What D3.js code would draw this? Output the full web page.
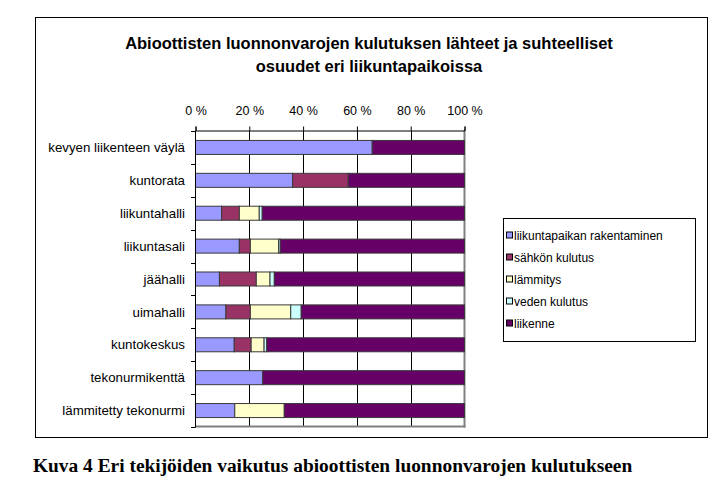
<!DOCTYPE html>
<html>
<head>
<meta charset="utf-8">
<script src="https://cdn.jsdelivr.net/npm/d3@7/dist/d3.min.js"></script>
<style>
  html, body { margin: 0; padding: 0; background: #fff; }
  svg { display: block; }
</style>
</head>
<body>
<svg id="chart" width="714" height="484"></svg>
<script>
const categories = ["kevyen liikenteen väylä", "kuntorata", "liikuntahalli", "liikuntasali",
  "jäähalli", "uimahalli", "kuntokeskus", "tekonurmikenttä", "lämmitetty tekonurmi"];
const seriesNames = ["liikuntapaikan rakentaminen", "sähkön kulutus", "lämmitys", "veden kulutus", "liikenne"];
const rakentaminen = [65.7, 36.1, 9.7, 16.3, 8.9, 11.3, 14.4, 25.0, 14.6];
const sahko        = [0, 20.7, 6.6, 4.1, 13.7, 9.1, 6.3, 0, 0];
const lammitys     = [0, 0, 7.4, 10.5, 5.1, 15.0, 4.8, 0, 18.4];
const vesi         = [0, 0, 1.1, 0.6, 1.6, 3.9, 1.0, 0, 0];
const liikenne     = [34.3, 43.2, 75.2, 68.5, 70.7, 60.7, 73.5, 75.0, 67.0];
const tickValues = [0, 20, 40, 60, 80, 100];
const tickLabels = ["0 %", "20 %", "40 %", "60 %", "80 %", "100 %"];
const colors = ["#9999FF", "#993366", "#FFFFCC", "#CCFFFF", "#660066"];
const titleLines = ["Abioottisten luonnonvarojen kulutuksen lähteet ja suhteelliset", "osuudet eri liikuntapaikoissa"];
const caption = "Kuva 4 Eri tekijöiden vaikutus abioottisten luonnonvarojen kulutukseen";

const SANS = "'Liberation Sans', Arial, sans-serif";
const SERIF = "'Liberation Serif', 'Times New Roman', serif";

const seriesArrays = [rakentaminen, sahko, lammitys, vesi, liikenne];
const table = categories.map((c, i) => {
  const row = { cat: c };
  seriesNames.forEach((s, j) => row[s] = seriesArrays[j][i]);
  return row;
});

const svg = d3.select("#chart");

// chart area border
svg.append("rect").attr("x", 35.5).attr("y", 17.5).attr("width", 672).attr("height", 420)
  .attr("fill", "#fff").attr("stroke", "#000").attr("stroke-width", 1);

// title
titleLines.forEach((t, i) => {
  svg.append("text").attr("x", 369).attr("y", 49 + i * 23).attr("text-anchor", "middle")
    .style("font-family", SANS).style("font-size", "16.5px").style("font-weight", "bold")
    .attr("fill", "#000").text(t);
});

const x = d3.scaleLinear().domain([0, 100]).range([195.5, 464.5]);
const y = d3.scaleBand().domain(categories).range([131, 427]).paddingInner(0.574).paddingOuter(0.287);
const plotTop = 130.5, plotBottom = 426.5;

// gridlines
svg.append("g").selectAll("line").data(tickValues.filter(v => v > 0 && v < 100)).join("line")
  .attr("x1", d => Math.round(x(d)) + 0.5).attr("x2", d => Math.round(x(d)) + 0.5)
  .attr("y1", plotTop).attr("y2", plotBottom)
  .attr("stroke", "#000").attr("stroke-width", 1);

// plot area border right & bottom (gray)
svg.append("line").attr("x1", x(100)).attr("x2", x(100)).attr("y1", plotTop).attr("y2", plotBottom + 1)
  .attr("stroke", "#808080").attr("stroke-width", 2);
svg.append("line").attr("x1", x(0)).attr("x2", x(100) + 1).attr("y1", plotBottom).attr("y2", plotBottom)
  .attr("stroke", "#808080").attr("stroke-width", 2);

// bars
const stacked = d3.stack().keys(seriesNames)(table);
svg.append("g").selectAll("g").data(stacked).join("g")
  .attr("fill", (d, i) => colors[i])
  .selectAll("rect").data(d => d.filter(s => s[1] - s[0] > 0)).join("rect")
  .attr("x", d => x(d[0]))
  .attr("y", d => y(d.data.cat))
  .attr("width", d => x(d[1]) - x(d[0]))
  .attr("height", y.bandwidth())
  .attr("stroke", "#3a3a3a").attr("stroke-width", 1);

// top axis
const topAxis = d3.axisTop(x).tickValues(tickValues).tickFormat((d, i) => tickLabels[i]).tickSizeOuter(0).tickSize(4);
const gTop = svg.append("g").attr("transform", `translate(0,${plotTop})`).call(topAxis);
gTop.select(".domain").attr("stroke", "#000");
gTop.selectAll(".tick line").attr("stroke", "#000");
gTop.selectAll(".tick text").style("font-size", "12.5px").style("font-family", SANS)
  .attr("fill", "#000").attr("y", -16);

// left axis with ticks between categories
svg.append("line").attr("x1", 195.5).attr("x2", 195.5).attr("y1", plotTop).attr("y2", plotBottom + 1)
  .attr("stroke", "#000");
const boundaries = categories.map(c => y(c) - y.step() * y.paddingInner() / 2).concat([427]);
svg.append("g").selectAll("line").data(boundaries).join("line")
  .attr("x1", 191).attr("x2", 195.5)
  .attr("y1", d => Math.round(d) + 0.5).attr("y2", d => Math.round(d) + 0.5)
  .attr("stroke", "#000");
svg.append("g").selectAll("text").data(categories).join("text")
  .attr("x", 185).attr("y", d => y(d) + y.bandwidth() / 2).attr("dy", "0.35em")
  .attr("text-anchor", "end").style("font-family", SANS).style("font-size", "13.3px")
  .attr("fill", "#000").text(d => d);

// legend
const lg = svg.append("g");
lg.append("rect").attr("x", 503.5).attr("y", 218.5).attr("width", 192).attr("height", 123)
  .attr("fill", "#fff").attr("stroke", "#000");
seriesNames.forEach((s, i) => {
  const cy = 235.5 + i * 22;
  lg.append("rect").attr("x", 506.5).attr("y", cy - 3.5).attr("width", 6).attr("height", 6)
    .attr("fill", colors[i]).attr("stroke", "#000").attr("stroke-width", 1);
  lg.append("text").attr("x", 514).attr("y", cy).attr("dy", "0.35em")
    .style("font-family", SANS).style("font-size", "12px").attr("fill", "#000").text(s);
});

// caption
svg.append("text").attr("x", 33).attr("y", 472)
  .style("font-family", SERIF).style("font-size", "19.4px").style("font-weight", "bold")
  .attr("fill", "#000").text(caption);
</script>
</body>
</html>
